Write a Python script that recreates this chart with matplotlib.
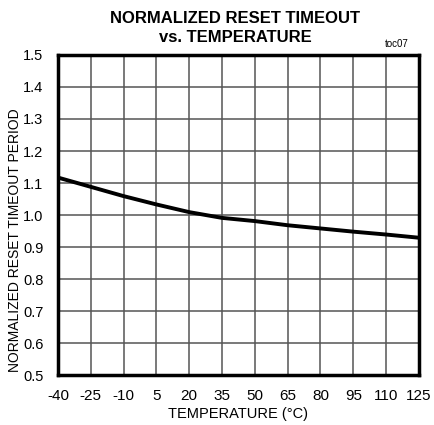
import matplotlib.pyplot as plt
import numpy as np

# Data
temps = [-40, -25, -10, 5, 20, 35, 50, 65, 80, 95, 110, 125]
period = [1.117, 1.088, 1.059, 1.033, 1.009, 0.991, 0.981, 0.968, 0.958, 0.948, 0.939, 0.929]
xticks = [-40, -25, -10, 5, 20, 35, 50, 65, 80, 95, 110, 125]
yticks = [0.5, 0.6, 0.7, 0.8, 0.9, 1.0, 1.1, 1.2, 1.3, 1.4, 1.5]

plt.rcParams['font.family'] = ['Liberation Sans', 'DejaVu Sans']
plt.rcParams['axes.unicode_minus'] = False

fig = plt.figure(figsize=(4.35, 4.25), dpi=100)
ax = fig.add_axes([0.1333, 0.1176, 0.8297, 0.753])

ax.plot(temps, period, color='black', linewidth=2.8, solid_capstyle='butt')

ax.set_xlim(-40, 125)
ax.set_ylim(0.5, 1.5)
ax.set_xticks(xticks)
ax.set_yticks(yticks)
ax.set_yticklabels([f"{v:.1f}" for v in yticks])
ax.tick_params(axis='x', length=0, labelsize=11, pad=10)
ax.tick_params(axis='y', length=0, labelsize=10.5, pad=10.5)
ax.grid(True, color='#555555', linewidth=1.1)
ax.set_axisbelow(True)
for s in ax.spines.values():
    s.set_linewidth(2.5)

ax.set_xlabel("TEMPERATURE (°C)", fontsize=10.5, labelpad=3)
ax.set_ylabel("NORMALIZED RESET TIMEOUT PERIOD", fontsize=10, va='center')
ax.yaxis.set_label_coords(-0.12, 0.42)

fig.text(0.54, 0.975, "NORMALIZED RESET TIMEOUT\nvs. TEMPERATURE", ha='center', va='top',
         fontsize=12, fontweight='bold', linespacing=1.4)
fig.text(0.94, 0.885, "toc07", ha='right', va='bottom', fontsize=7)

fig.savefig("out.png", dpi=100)
